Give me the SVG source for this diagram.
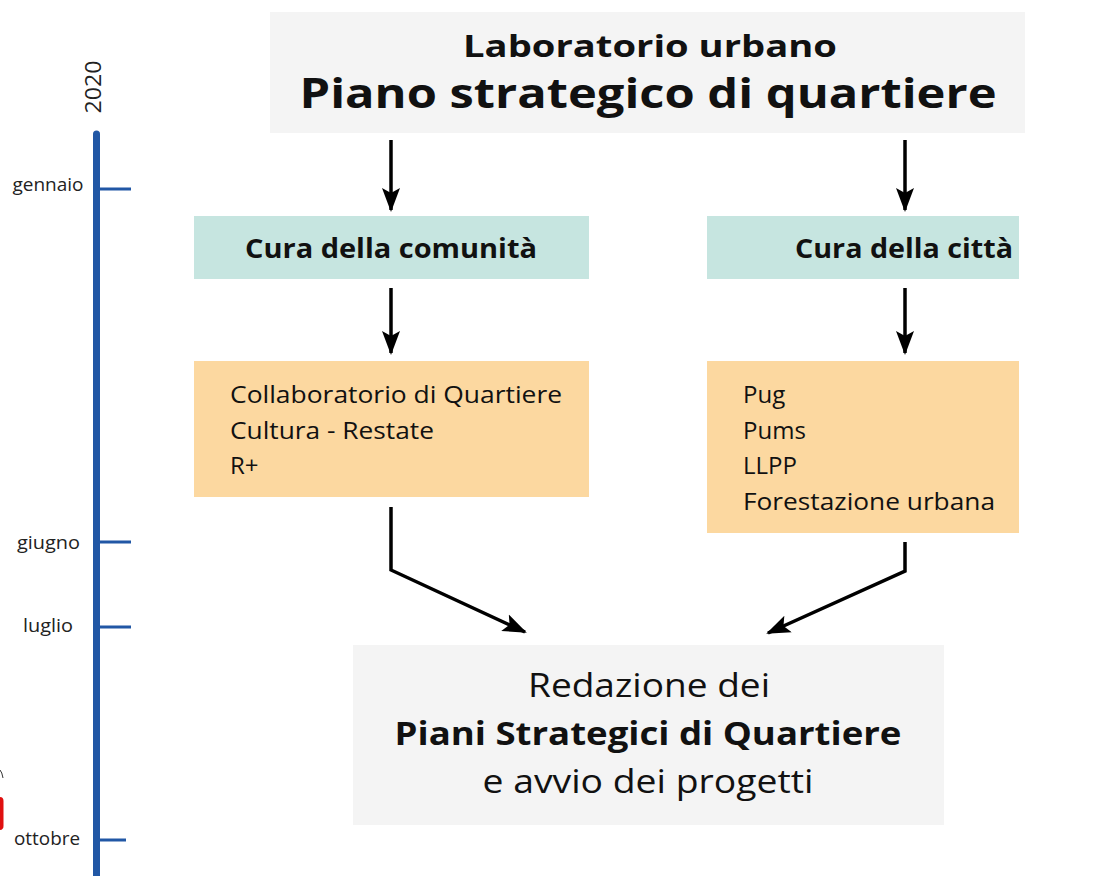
<svg xmlns="http://www.w3.org/2000/svg" width="1093" height="876" viewBox="0 0 1093 876">
<style>
.grey{fill:#f4f4f4}
.teal{fill:#c6e5e0}
.orange{fill:#fcd8a0}
.t{font-family:"Open Sans","Noto Sans","Liberation Sans",sans-serif;fill:#111}
.b{font-weight:bold}
.lab{font-family:"Open Sans","Noto Sans","Liberation Sans",sans-serif;font-size:17.5px;fill:#222;text-anchor:middle}
.arr{fill:none;stroke:#000;stroke-width:3.5;marker-end:url(#ah)}
.tick{stroke:#2157a5;stroke-width:3}
</style>
<defs>
<marker id="ah" markerUnits="userSpaceOnUse" markerWidth="26" markerHeight="22" viewBox="0 0 26 22" refX="22" refY="11" orient="auto">
<path d="M0,2 L24,11 L0,20 L5,11 Z" fill="#000"/>
</marker>
</defs>
<rect width="1093" height="876" fill="#fff"/>
<g id="timeline">
<line x1="96.5" y1="134" x2="96.5" y2="880" stroke="#2157a5" stroke-width="7" stroke-linecap="round"/>
<line class="tick" x1="98" y1="189" x2="131" y2="189"/>
<line class="tick" x1="98" y1="542" x2="131" y2="542"/>
<line class="tick" x1="98" y1="627" x2="131" y2="627"/>
<line class="tick" x1="98" y1="840" x2="126" y2="840"/>
<text class="lab" x="0" y="0" style="font-size:22px" transform="translate(101,87) rotate(-90)" textLength="53" lengthAdjust="spacingAndGlyphs">2020</text>
<text class="lab" x="48" y="191" textLength="71" lengthAdjust="spacingAndGlyphs">gennaio</text>
<text class="lab" x="48.5" y="549" textLength="63" lengthAdjust="spacingAndGlyphs">giugno</text>
<text class="lab" x="48" y="632" textLength="50" lengthAdjust="spacingAndGlyphs">luglio</text>
<text class="lab" x="47" y="845" textLength="66" lengthAdjust="spacingAndGlyphs">ottobre</text>
<rect x="-6" y="797" width="9.5" height="33" rx="4" fill="#e01010"/>
<path d="M0,770 Q2,772 3,778" fill="none" stroke="#333" stroke-width="1"/>
</g>
<g id="n-title">
<rect class="grey" x="270" y="12" width="755" height="121"/>
<text class="t b" x="650" y="57" text-anchor="middle" font-size="31" textLength="374" lengthAdjust="spacingAndGlyphs">Laboratorio urbano</text>
<text class="t b" x="648" y="108" text-anchor="middle" font-size="41" textLength="697" lengthAdjust="spacingAndGlyphs">Piano strategico di quartiere</text>
</g>
<g id="n-comunita">
<rect class="teal" x="194" y="216" width="395" height="63"/>
<text class="t b" x="391" y="258" text-anchor="middle" font-size="26" textLength="292" lengthAdjust="spacingAndGlyphs">Cura della comunità</text>
</g>
<g id="n-citta">
<rect class="teal" x="707" y="216" width="312" height="63"/>
<text class="t b" x="904" y="258" text-anchor="middle" font-size="26" textLength="218" lengthAdjust="spacingAndGlyphs">Cura della città</text>
</g>
<g id="n-left-list">
<rect class="orange" x="194" y="361" width="395" height="136"/>
<text class="t" x="230" y="403" font-size="24" textLength="332" lengthAdjust="spacingAndGlyphs">Collaboratorio di Quartiere</text>
<text class="t" x="230" y="439" font-size="24" textLength="204" lengthAdjust="spacingAndGlyphs">Cultura - Restate</text>
<text class="t" x="230" y="474" font-size="24">R+</text>
</g>
<g id="n-right-list">
<rect class="orange" x="707" y="361" width="312" height="172"/>
<text class="t" x="743" y="403" font-size="24">Pug</text>
<text class="t" x="743" y="439" font-size="24">Pums</text>
<text class="t" x="743" y="474" font-size="24">LLPP</text>
<text class="t" x="743" y="510" font-size="24" textLength="252" lengthAdjust="spacingAndGlyphs">Forestazione urbana</text>
</g>
<g id="n-redazione">
<rect class="grey" x="353" y="645" width="591" height="180"/>
<text class="t" x="649" y="697" text-anchor="middle" font-size="33" textLength="242" lengthAdjust="spacingAndGlyphs">Redazione dei</text>
<text class="t b" x="648" y="745" text-anchor="middle" font-size="33" textLength="507" lengthAdjust="spacingAndGlyphs">Piani Strategici di Quartiere</text>
<text class="t" x="648" y="793" text-anchor="middle" font-size="33" textLength="331" lengthAdjust="spacingAndGlyphs">e avvio dei progetti</text>
</g>
<g id="connectors">
<path class="arr" d="M391,140 L391,210"/>
<path class="arr" d="M905,140 L905,210"/>
<path class="arr" d="M391,288 L391,353"/>
<path class="arr" d="M905,288 L905,353"/>
<path class="arr" d="M391,507 L391,570 L525,632"/>
<path class="arr" d="M905,542 L905,571 L768,633"/>
</g>
</svg>
